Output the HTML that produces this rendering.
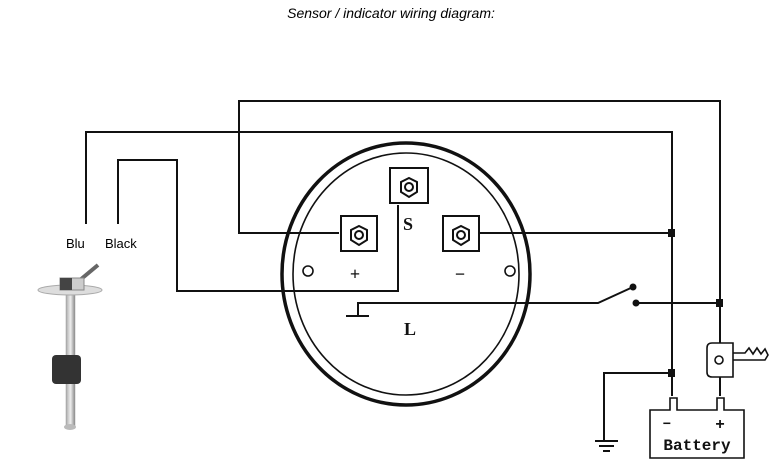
<!DOCTYPE html><html><head><style>body{margin:0;background:#fff}svg{display:block}</style></head><body>
<svg width="783" height="475" viewBox="0 0 783 475" xmlns="http://www.w3.org/2000/svg">
<defs><linearGradient id="rod" x1="0" x2="1"><stop offset="0" stop-color="#aaa"/><stop offset=".5" stop-color="#eee"/><stop offset="1" stop-color="#888"/></linearGradient></defs>
<text x="391" y="18" font-family="Liberation Sans,sans-serif" font-style="italic" font-size="14" text-anchor="middle">Sensor / indicator wiring diagram:</text>
<g fill="none" stroke="#111" stroke-width="2">
<ellipse cx="406" cy="274" rx="124" ry="131" stroke-width="3.5"/>
<ellipse cx="406" cy="274" rx="113" ry="121" stroke-width="1.6"/>
<polyline points="339,233 239,233 239,101 720,101 720,343"/>
<polyline points="479,233 672,233"/>
<polyline points="86,224 86,132 672,132 672,396"/>
<polyline points="118,224 118,160 177,160 177,291 398,291 398,205"/>
<polyline points="358,316 358,303 598,303 633,287"/>
<polyline points="636,303 720,303"/>
<polyline points="672,373 604,373 604,440"/>
<line x1="346" y1="316" x2="369" y2="316"/>
<line x1="595" y1="441" x2="618" y2="441"/><line x1="599" y1="446" x2="614" y2="446"/><line x1="603" y1="451" x2="610" y2="451"/>
<line x1="720" y1="377" x2="720" y2="396"/>
<circle cx="308" cy="271" r="5" stroke-width="1.6"/><circle cx="510" cy="271" r="5" stroke-width="1.6"/>
<path d="M650,458 V410 H670 V398 H677 V410 H717 V398 H724 V410 H744 V458 Z" stroke-width="1.6"/>
<path d="M712,343 H733 V377 H712 Q707,377 707,372 V348 Q707,343 712,343 Z M733,353 H745 L749,348 L753,354 L757,348 L761,354 L765,349 L768,355 L765,360 H733" stroke-width="1.6"/>
<circle cx="719" cy="360" r="4" stroke-width="1.6"/>
</g>
<g fill="#fff" stroke="#111" stroke-width="2">
<rect x="390" y="168" width="38" height="35"/><rect x="341" y="216" width="36" height="35"/><rect x="443" y="216" width="36" height="35"/>
<polygon points="409,178 417,182 417,192 409,197 401,192 401,182"/><circle cx="409" cy="187" r="4"/>
<polygon points="359,226 367,230 367,240 359,245 351,240 351,230"/><circle cx="359" cy="235" r="4"/>
<polygon points="461,226 469,230 469,240 461,245 453,240 453,230"/><circle cx="461" cy="235" r="4"/>
</g>
<g fill="#111">
<rect x="668" y="229" width="7" height="8"/><rect x="668" y="369" width="7" height="8"/><rect x="716" y="299" width="7" height="8"/>
<circle cx="633" cy="287" r="3.5"/><circle cx="636" cy="303" r="3.5"/>
</g>
<g font-family="Liberation Serif,serif" font-weight="bold" font-size="18" text-anchor="middle" fill="#111">
<text x="408" y="230">S</text><text x="410" y="335">L</text><text x="355" y="280">+</text><text x="460" y="280">−</text>
</g>
<g font-family="Liberation Mono,monospace" font-weight="bold" fill="#111" text-anchor="middle">
<text x="697" y="450" font-size="16">Battery</text><text x="667" y="428" font-size="14">−</text><text x="720" y="429" font-size="16">+</text>
</g>
<text x="66" y="248" font-family="Liberation Sans,sans-serif" font-size="13">Blu</text>
<text x="105" y="248" font-family="Liberation Sans,sans-serif" font-size="13">Black</text>
<line x1="80" y1="280" x2="98" y2="265" stroke="#666" stroke-width="4"/>
<rect x="66" y="290" width="9" height="136" fill="url(#rod)" stroke="#999" stroke-width=".5"/>
<ellipse cx="70" cy="290" rx="32" ry="5" fill="#ddd" stroke="#aaa"/>
<rect x="60" y="278" width="24" height="12" fill="#ccc" stroke="#888"/><rect x="60" y="278" width="12" height="12" fill="#444"/>
<rect x="52" y="355" width="29" height="29" rx="4" fill="#333"/>
<ellipse cx="70" cy="427" rx="6" ry="3" fill="#bbb"/>
</svg></body></html>
